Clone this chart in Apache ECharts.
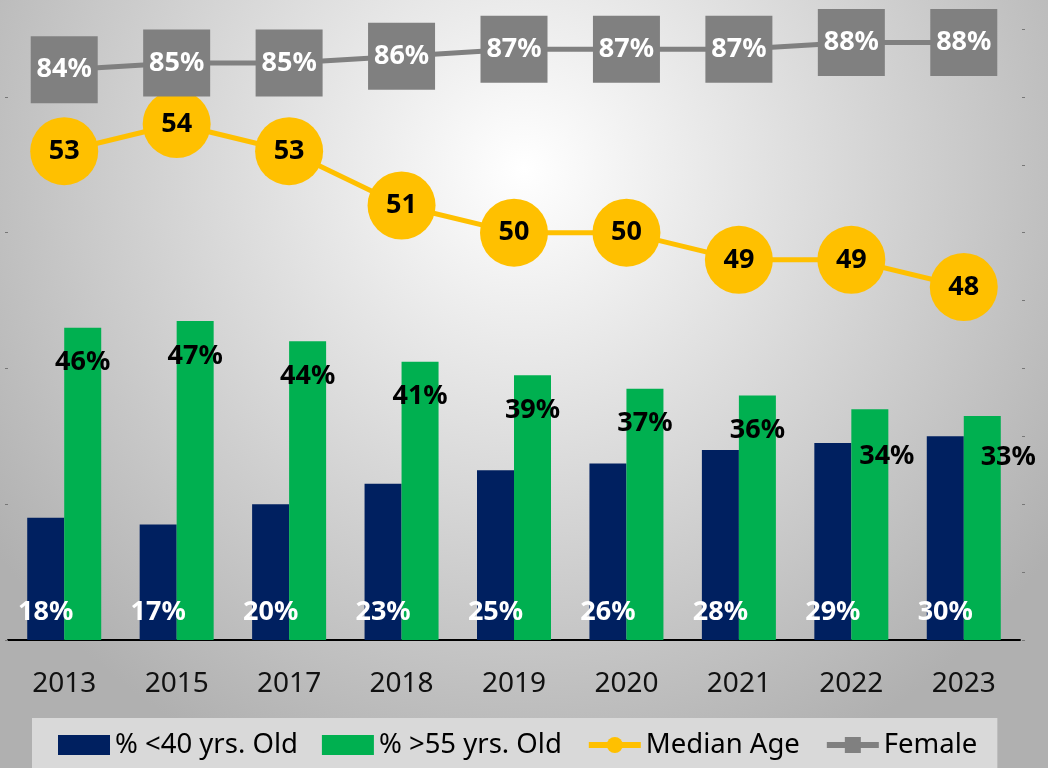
<!DOCTYPE html>
<html>
<head>
<meta charset="utf-8">
<script src="https://cdn.jsdelivr.net/npm/echarts@6/dist/echarts.min.js"></script>
<style>
html, body { margin: 0; padding: 0; }
#chart { width: 1048px; height: 768px; }
</style>
</head>
<body>
<div id="chart"></div>
<script>
var years = ['2013', '2015', '2017', '2018', '2019', '2020', '2021', '2022', '2023'];
var under40 = [18, 17, 20, 23, 25, 26, 28, 29, 30];
var over55 = [46, 47, 44, 41, 39, 37, 36, 34, 33];
var medianAge = [53, 54, 53, 51, 50, 50, 49, 49, 48];
var female = [84, 85, 85, 86, 87, 87, 87, 88, 88];

// a couple of green labels sit lower / to the right in the original
var shiftedLabels = { 7: [17, 12], 8: [26, 6] };

var font = '"Noto Sans", sans-serif';
var boldLabel = { fontFamily: font, fontWeight: 'bold', fontSize: 27, lineHeight: 28 };

var myChart = echarts.init(document.getElementById('chart'));

var option = {
    backgroundColor: {
        type: 'radial', x: 0.5, y: 0.22, r: 0.85,
        colorStops: [
            { offset: 0, color: '#ffffff' },
            { offset: 1, color: '#b0b0b0' }
        ]
    },
    animation: false,
    textStyle: { fontFamily: font },
    grid: { left: 8, right: 28, top: 29, bottom: 128 },
    legend: {
        left: 32, bottom: 0,
        padding: [13, 20, 9, 26],
        backgroundColor: '#d9d9d9',
        itemWidth: 52, itemHeight: 20, itemGap: 24,
        lineStyle: { width: 6 },
        textStyle: { fontFamily: font, fontSize: 27.5, color: '#000' },
        data: [
            { name: '% <40 yrs. Old', icon: 'rect' },
            { name: '% >55 yrs. Old', icon: 'rect' },
            'Median Age',
            'Female'
        ]
    },
    xAxis: {
        type: 'category',
        data: years,
        axisLine: { lineStyle: { color: '#000', width: 2 } },
        axisTick: { show: false },
        axisLabel: { fontFamily: font, fontSize: 28, color: '#111', margin: 30 }
    },
    yAxis: [{
        type: 'value', min: 0, max: 90, interval: 20,
        axisLine: { show: false },
        axisTick: { show: true, length: 3, customValues: [0, 20, 40, 60, 80], lineStyle: { color: '#777' } },
        axisLabel: { show: false },
        splitLine: { show: false }
    }, {
        type: 'value', min: 35, max: 57.5, interval: 2.5, position: 'right', offset: 2,
        axisLine: { show: false },
        axisTick: { show: true, length: 3, lineStyle: { color: '#777' } },
        axisLabel: { show: false },
        splitLine: { show: false }
    }],
    series: [{
        name: '% <40 yrs. Old',
        type: 'bar',
        barWidth: 37,
        barGap: '0%',
        itemStyle: { color: '#002060' },
        label: Object.assign({
            show: true, position: 'insideBottom', distance: 14, color: '#fff',
            formatter: '{c}%'
        }, boldLabel),
        data: under40
    }, {
        name: '% >55 yrs. Old',
        type: 'bar',
        barWidth: 37,
        itemStyle: { color: '#00b050' },
        label: Object.assign({
            show: true, position: 'insideTop', distance: 21, color: '#000',
            formatter: '{c}%'
        }, boldLabel),
        data: over55.map(function (v, i) {
            var item = { value: v };
            if (shiftedLabels[i]) item.label = { offset: shiftedLabels[i] };
            return item;
        })
    }, {
        name: 'Median Age',
        type: 'line',
        yAxisIndex: 1,
        clip: false,
        symbol: 'circle',
        symbolSize: 68,
        lineStyle: { color: '#ffc000', width: 5 },
        itemStyle: { color: '#ffc000' },
        label: Object.assign({ show: true, position: 'inside', color: '#000' }, boldLabel),
        z: 3,
        data: medianAge
    }, {
        name: 'Female',
        type: 'line',
        yAxisIndex: 0,
        clip: false,
        symbol: 'rect',
        symbolSize: 67,
        lineStyle: { color: '#808080', width: 5 },
        itemStyle: { color: '#808080' },
        label: Object.assign({ show: true, position: 'inside', color: '#fff', formatter: '{c}%' }, boldLabel),
        z: 3,
        data: female
    }]
};

myChart.setOption(option);
</script>
</body>
</html>
